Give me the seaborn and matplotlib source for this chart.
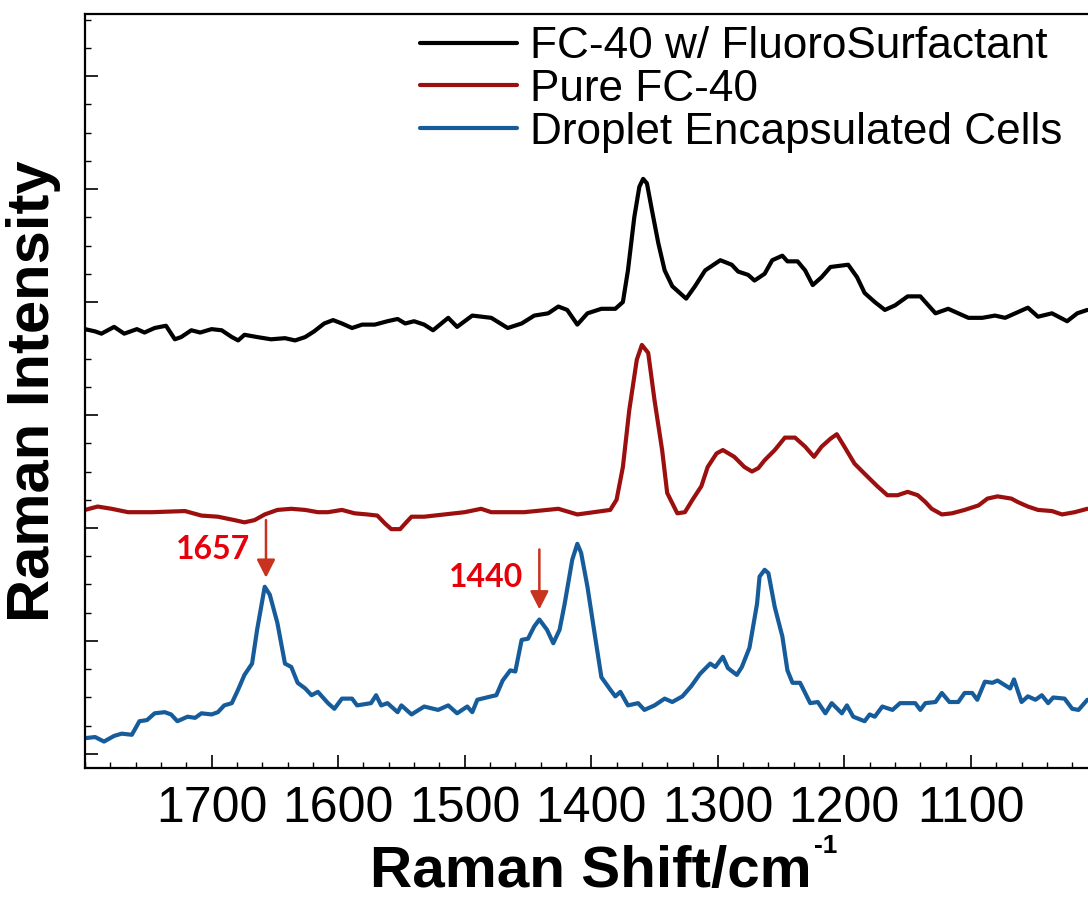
import numpy as np
import pandas as pd
import matplotlib
matplotlib.use("Agg")
import matplotlib.pyplot as plt
from matplotlib.lines import Line2D
import seaborn as sns

sns.set_style("ticks")
plt.rcParams['font.family'] = ['Liberation Sans', 'DejaVu Sans']
plt.rcParams['text.color'] = 'black'
plt.rcParams['axes.labelcolor'] = 'black'
plt.rcParams['xtick.color'] = 'black'
plt.rcParams['ytick.color'] = 'black'
plt.rcParams['axes.edgecolor'] = 'black'

# ---------------- data (Raman shift in cm^-1, intensity in offset a.u.) ----------------
series_names = ["FC-40 w/ FluoroSurfactant", "Pure FC-40", "Droplet Encapsulated Cells"]
series_colors = ["#000000", "#9c0f0f", "#165c9b"]

shift_surf = [1800, 1792, 1787, 1777, 1769, 1759, 1753, 1745, 1736, 1729, 1724, 1716, 1709, 1700,
              1692, 1684, 1679, 1674, 1664, 1653, 1642, 1634, 1626, 1619, 1611, 1604, 1597, 1589,
              1581, 1571, 1561, 1553, 1547, 1540, 1532, 1525, 1513, 1506, 1494, 1479, 1466, 1455,
              1445, 1434, 1426, 1419, 1411, 1403, 1392, 1381, 1375, 1371, 1366, 1362, 1359, 1356,
              1352, 1347, 1342, 1336, 1325, 1318, 1310, 1298, 1289, 1284, 1276, 1271, 1263, 1257,
              1249, 1245, 1237, 1231, 1225, 1218, 1211, 1197, 1190, 1184, 1176, 1168, 1160, 1150,
              1140, 1136, 1128, 1118, 1110, 1102, 1091, 1081, 1073, 1055, 1047, 1036, 1024, 1016, 1008]
int_surf = [3.76, 3.74, 3.72, 3.78, 3.72, 3.76, 3.73, 3.77, 3.79, 3.67, 3.69, 3.75, 3.73, 3.76,
            3.75, 3.69, 3.66, 3.71, 3.69, 3.67, 3.68, 3.66, 3.69, 3.74, 3.81, 3.84, 3.81, 3.77,
            3.80, 3.80, 3.83, 3.85, 3.81, 3.83, 3.80, 3.75, 3.86, 3.78, 3.88, 3.86, 3.77, 3.81,
            3.88, 3.90, 3.96, 3.93, 3.80, 3.90, 3.94, 3.94, 4.00, 4.28, 4.75, 5.02, 5.09, 5.05,
            4.81, 4.52, 4.28, 4.14, 4.03, 4.14, 4.28, 4.37, 4.33, 4.27, 4.24, 4.19, 4.25, 4.37,
            4.41, 4.36, 4.36, 4.28, 4.15, 4.22, 4.31, 4.33, 4.22, 4.08, 4.00, 3.93, 3.97, 4.05,
            4.05, 4.00, 3.90, 3.94, 3.90, 3.86, 3.86, 3.88, 3.86, 3.95, 3.87, 3.90, 3.83, 3.90, 3.93]

shift_pure = [1800, 1790, 1779, 1766, 1747, 1721, 1708, 1695, 1682, 1674, 1666, 1658, 1648, 1637,
              1626, 1616, 1608, 1597, 1587, 1577, 1569, 1563, 1558, 1551, 1547, 1542, 1532, 1516,
              1500, 1487, 1479, 1453, 1426, 1411, 1385, 1380, 1375, 1370, 1364, 1360, 1355, 1350,
              1344, 1340, 1332, 1326, 1320, 1313, 1308, 1301, 1296, 1287, 1279, 1273, 1268, 1263,
              1255, 1247, 1239, 1231, 1224, 1218, 1211, 1206, 1200, 1192, 1184, 1174, 1166, 1158,
              1150, 1142, 1136, 1131, 1123, 1115, 1105, 1094, 1087, 1079, 1068, 1063, 1055, 1047,
              1036, 1028, 1018, 1008]
int_pure = [2.16, 2.19, 2.17, 2.14, 2.14, 2.15, 2.11, 2.10, 2.07, 2.05, 2.07, 2.12, 2.16, 2.17,
            2.16, 2.14, 2.14, 2.16, 2.13, 2.12, 2.11, 2.04, 1.99, 1.99, 2.04, 2.10, 2.10, 2.12,
            2.14, 2.17, 2.14, 2.14, 2.17, 2.12, 2.16, 2.25, 2.54, 3.04, 3.49, 3.62, 3.55, 3.13,
            2.69, 2.31, 2.13, 2.14, 2.25, 2.37, 2.54, 2.66, 2.69, 2.63, 2.54, 2.50, 2.53, 2.60,
            2.69, 2.80, 2.80, 2.72, 2.63, 2.72, 2.79, 2.83, 2.72, 2.57, 2.48, 2.37, 2.29, 2.29,
            2.32, 2.29, 2.23, 2.17, 2.12, 2.13, 2.16, 2.20, 2.26, 2.28, 2.26, 2.23, 2.19, 2.16,
            2.15, 2.12, 2.14, 2.17]

shift_cells = [1800, 1792, 1785, 1777, 1771, 1763, 1757, 1751, 1745, 1737, 1732, 1727, 1719, 1713,
               1708, 1700, 1695, 1690, 1684, 1679, 1674, 1668, 1664, 1658, 1654, 1648, 1642, 1637,
               1632, 1626, 1621, 1616, 1608, 1603, 1597, 1589, 1585, 1574, 1570, 1566, 1561, 1553,
               1550, 1542, 1532, 1521, 1513, 1506, 1498, 1494, 1490, 1479, 1475, 1470, 1464, 1460,
               1455, 1450, 1445, 1441, 1435, 1430, 1425, 1421, 1415, 1411, 1408, 1403, 1397, 1392,
               1385, 1381, 1377, 1371, 1363, 1358, 1350, 1342, 1336, 1328, 1321, 1314, 1306, 1302,
               1296, 1292, 1285, 1281, 1275, 1269, 1267, 1263, 1260, 1255, 1249, 1245, 1241, 1235,
               1231, 1227, 1221, 1215, 1210, 1202, 1198, 1193, 1184, 1180, 1176, 1170, 1162, 1156,
               1144, 1140, 1136, 1128, 1123, 1117, 1110, 1105, 1099, 1095, 1089, 1083, 1079, 1069,
               1066, 1060, 1055, 1049, 1044, 1039, 1035, 1026, 1020, 1015, 1008]
int_cells = [0.14, 0.15, 0.11, 0.16, 0.18, 0.17, 0.29, 0.30, 0.36, 0.37, 0.35, 0.29, 0.33, 0.32,
             0.36, 0.35, 0.37, 0.43, 0.45, 0.57, 0.70, 0.80, 1.10, 1.48, 1.41, 1.16, 0.80, 0.77,
             0.63, 0.58, 0.52, 0.55, 0.45, 0.40, 0.49, 0.49, 0.43, 0.45, 0.52, 0.43, 0.45, 0.37,
             0.43, 0.35, 0.42, 0.39, 0.43, 0.36, 0.42, 0.37, 0.48, 0.51, 0.52, 0.65, 0.74, 0.73,
             1.01, 1.02, 1.13, 1.19, 1.10, 0.98, 1.10, 1.33, 1.72, 1.86, 1.78, 1.48, 1.04, 0.68,
             0.57, 0.51, 0.55, 0.43, 0.45, 0.39, 0.43, 0.49, 0.46, 0.51, 0.60, 0.71, 0.80, 0.77,
             0.86, 0.76, 0.70, 0.77, 0.94, 1.33, 1.57, 1.63, 1.60, 1.30, 1.04, 0.74, 0.63, 0.63,
             0.54, 0.45, 0.46, 0.36, 0.45, 0.36, 0.43, 0.33, 0.29, 0.35, 0.33, 0.42, 0.39, 0.45,
             0.45, 0.39, 0.45, 0.46, 0.54, 0.46, 0.46, 0.54, 0.54, 0.48, 0.64, 0.63, 0.65, 0.58,
             0.66, 0.46, 0.51, 0.48, 0.52, 0.45, 0.50, 0.49, 0.40, 0.39, 0.48]

peak_labels = ["1657", "1440"]
peak_shift = [1657, 1441]
arrow_top = [2.07, 1.81]
arrow_tip = [1.56, 1.28]
label_shift = [1699, 1483]
label_int = [1.81, 1.56]

x_ticks = [1700, 1600, 1500, 1400, 1300, 1200, 1100]

# ---------------- build table ----------------
frames = []
for name, xs, ys in [(series_names[0], shift_surf, int_surf),
                     (series_names[1], shift_pure, int_pure),
                     (series_names[2], shift_cells, int_cells)]:
    frames.append(pd.DataFrame({"shift": xs, "intensity": ys, "series": name}))
df = pd.concat(frames, ignore_index=True)

# ---------------- figure ----------------
W, H = 1088, 901
fig = plt.figure(figsize=(W / 100, H / 100), dpi=100)
ax_left, ax_right, ax_top, ax_bot = 85, 1097.5, 14, 768
ax = fig.add_axes([ax_left / W, 1 - ax_bot / H, (ax_right - ax_left) / W, (ax_bot - ax_top) / H])

sns.lineplot(data=df, x="shift", y="intensity", hue="series", hue_order=series_names,
             palette=dict(zip(series_names, series_colors)), linewidth=3.0,
             estimator=None, sort=True, ax=ax, legend=False)

ax.set_xlim(1800, 1000)
ax.set_ylim(-0.124, 6.549)

ax.set_xticks(x_ticks)
ax.set_xticklabels([str(t) for t in x_ticks])
ax.set_xticks(np.arange(1000, 1801, 20), minor=True)
ax.set_yticks(np.arange(0, 7, 1))
ax.set_yticks(np.arange(0, 6.55, 0.25), minor=True)
ax.set_yticklabels([])

ax.tick_params(axis="both", which="major", direction="in", length=9.5, width=1.2,
               labelsize=36, pad=13, colors="black", top=False, right=False)
ax.tick_params(axis="both", which="minor", direction="in", length=4.5, width=1.0,
               colors="black", top=False, right=False)
for s in ax.spines.values():
    s.set_linewidth(1.6)
    s.set_color("black")

ax.set_xlabel("Raman Shift/cm", fontsize=42, fontweight="bold", labelpad=9)
ax.set_ylabel("Raman Intensity", fontsize=43, fontweight="bold", labelpad=4)

# small superscript "-1" attached to the x label
fig.canvas.draw()
bb = ax.xaxis.label.get_window_extent()
cap_top = bb.y1 - 0.19 * 42 * 100 / 72
fig.text((bb.x1 + 2) / W, (cap_top + 3) / H, "-1", fontsize=19, fontweight="bold",
         ha="left", va="baseline")

# legend
handles = [Line2D([], [], color=c, linewidth=3.0) for c in series_colors]
fig.legend(handles, series_names, loc="upper left",
           bbox_to_anchor=(420 / W, 1 - 26 / H), frameon=False, fontsize=31.8,
           handlelength=2.2, handletextpad=0.3, labelspacing=0.04, borderpad=0,
           borderaxespad=0)

# annotations
for lab, px, top, tip, lx, ly in zip(peak_labels, peak_shift, arrow_top, arrow_tip, label_shift, label_int):
    ax.annotate("", xy=(px, tip), xytext=(px, top),
                arrowprops=dict(arrowstyle="-|>,head_length=0.55,head_width=0.28",
                                color="#c8321e", lw=1.8, shrinkA=0, shrinkB=0,
                                mutation_scale=20))
    ax.text(lx, ly, lab, color="#e6000a", fontsize=23, fontweight="bold",
            family=["Lato", "DejaVu Sans"], ha="center", va="center")

fig.savefig("out.png", dpi=100)
